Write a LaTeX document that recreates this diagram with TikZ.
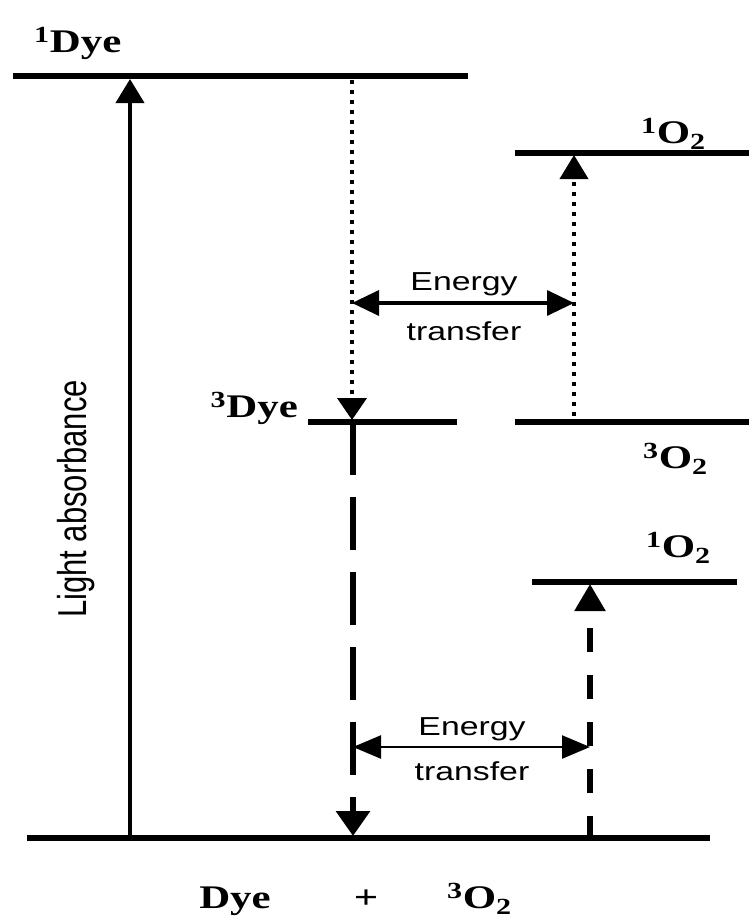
\documentclass[tikz,border=0pt]{standalone}
\usepackage{fontspec}
\setmainfont{Liberation Serif}
\newfontfamily\helv{Liberation Sans}
\usetikzlibrary{arrows.meta}
\newcommand\etire[1]{\scalebox{1.3}[1]{#1}}

\begin{document}
\begin{tikzpicture}[x=1pt,y=-1pt,
  niveau/.style={line width=6.5pt},
  pointille/.style={line width=4pt,dash pattern=on 4pt off 6pt},
  tiret/.style={line width=6.5pt,dash pattern=on 53pt off 22pt},
  tiretcourt/.style={line width=5.5pt,dash pattern=on 24pt off 23pt},
  etat/.style={font=\fontsize{33}{36}\selectfont\bfseries,inner sep=0pt},
  legende/.style={font=\helv\fontsize{26}{30}\selectfont,inner sep=0pt},
  pointe/.style={-{Triangle[width=28pt,length=24pt]}},
]
\useasboundingbox (0,0) rectangle (749,918);
% niveaux d'energie
\coordinate (d1g) at (13,76);   \coordinate (d1d) at (468,76);
\coordinate (o1g) at (515,153); \coordinate (o1d) at (749,153);
\coordinate (d3g) at (308,422); \coordinate (d3d) at (457,422);
\coordinate (o3g) at (515,422); \coordinate (o3d) at (749,422);
\coordinate (s1g) at (532,582); \coordinate (s1d) at (737,582);
\coordinate (fg) at (27,838);   \coordinate (fd) at (710,838);
\draw[niveau] (d1g) -- (d1d);
\draw[niveau] (o1g) -- (o1d);
\draw[niveau] (d3g) -- (d3d);
\draw[niveau] (o3g) -- (o3d);
\draw[niveau] (s1g) -- (s1d);
\draw[niveau] (fg) -- (fd);
% absorption
\coordinate (abs0) at (130,835); \coordinate (abs1) at (130,79);
\draw[line width=4pt,pointe] (abs0) -- (abs1);
\node[legende,font=\helv\fontsize{31}{35}\selectfont,rotate=90] (absl) at (76,499)
  {\scalebox{1}[1.3]{Light absorbance}};
% croisement inter-systemes et transfert
\coordinate (cis0) at (352,80);  \coordinate (cis1) at (352,420);
\draw[pointille,-{Triangle[width=29pt,length=22pt]}] (cis0) -- (cis1);
\coordinate (ox0) at (574,416);  \coordinate (ox1) at (574,155);
\draw[pointille,pointe] (ox0) -- (ox1);
\coordinate (et1g) at (352,303); \coordinate (et1d) at (574,303);
\draw[line width=3.5pt,{Triangle[width=25pt,length=27pt]}-{Triangle[width=25pt,length=27pt]}] (et1g) -- (et1d);
\node[legende,anchor=base] (en1) at (464,290) {\etire{Energy}};
\node[legende,anchor=base] (tr1) at (464,340) {\etire{transfer}};
% retour au fondamental
\coordinate (t0) at (353,422);   \coordinate (t1) at (353,836);
\draw[tiret,-{Triangle[width=33pt,length=25pt]}] (t0) -- (t1);
\coordinate (g0) at (590,840);   \coordinate (g1) at (590,584);
\draw[tiretcourt,-{Triangle[width=30pt,length=27pt]}] (g0) -- (g1);
\coordinate (et2g) at (353,747); \coordinate (et2d) at (590,747);
\draw[line width=2.5pt,{Triangle[width=23pt,length=28pt]}-{Triangle[width=23pt,length=28pt]}] (et2g) -- (et2d);
\node[legende,anchor=base] (en2) at (472,735) {\etire{Energy}};
\node[legende,anchor=base] (tr2) at (472,780) {\etire{transfer}};
% etiquettes
\node[etat,anchor=base west] (l1dye) at (34,52) {\etire{\textsuperscript{1}Dye}};
\node[etat,anchor=base east] (l3dye) at (298,417) {\etire{\textsuperscript{3}Dye}};
\node[etat,anchor=base west] (l1o2a) at (641,143) {\etire{\textsuperscript{1}O\textsubscript{2}}};
\node[etat,anchor=base west] (l3o2) at (643,468) {\etire{\textsuperscript{3}O\textsubscript{2}}};
\node[etat,anchor=base west] (l1o2b) at (646,557) {\etire{\textsuperscript{1}O\textsubscript{2}}};
\node[etat,anchor=base] (ldye) at (235,908) {\etire{Dye}};
\node[etat,anchor=base] (plus) at (366,908) {\etire{+}};
\node[etat,anchor=base west] (lo2) at (447,908) {\etire{\textsuperscript{3}O\textsubscript{2}}};
\end{tikzpicture}
\end{document}
